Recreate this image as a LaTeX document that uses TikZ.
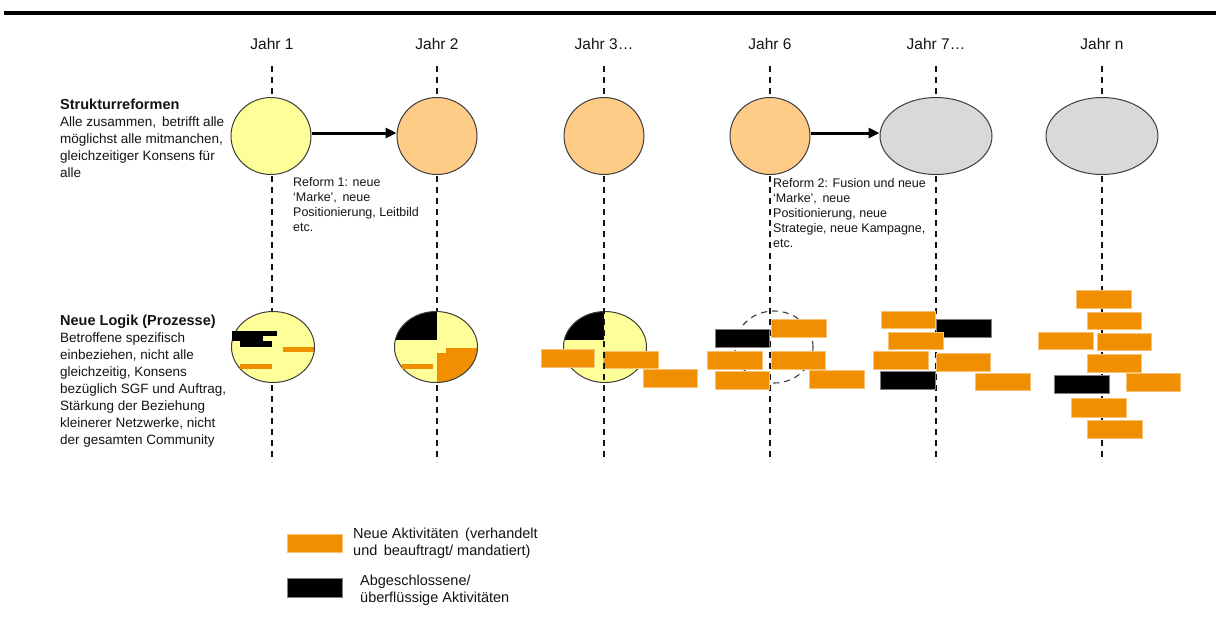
\documentclass[tikz,border=0pt]{standalone}
\usepackage{fontspec}
\setmainfont{Liberation Sans}
\usetikzlibrary{shapes.geometric,arrows.meta}
\definecolor{ylw}{RGB}{255,255,153}
\definecolor{peach}{RGB}{255,204,136}
\definecolor{lgray}{RGB}{217,217,217}
\definecolor{org}{RGB}{240,144,0}
\definecolor{edge}{RGB}{60,60,60}
\definecolor{txt}{RGB}{20,20,20}
\begin{document}
\begin{tikzpicture}[x=1pt,y=-1pt,
  yline/.style={dashed, dash pattern=on 6pt off 5pt, line width=1.1pt, draw=txt},
  bub/.style={ellipse, draw=edge, line width=1pt, inner sep=0pt, minimum width=80pt, minimum height=77pt},
  wbub/.style={bub, minimum width=112pt},
  lbub/.style={ellipse, draw=edge, line width=1pt, inner sep=0pt, minimum width=83pt, minimum height=71pt},
  obar/.style={fill=org, draw=org!55!white, line width=0.5pt},
  bbar/.style={fill=black, draw=gray, line width=0.5pt},
  yr/.style={font=\fontsize{15.5}{18}\selectfont, text=txt, inner sep=0pt, anchor=base},
  head/.style={font=\fontsize{14.5}{17}\selectfont\bfseries, text=txt, inner sep=0pt, anchor=base west},
  body/.style={font=\fontsize{13.5}{17}\selectfont, text=txt, inner sep=0pt, anchor=base west, align=left},
  note/.style={font=\fontsize{12.5}{15}\selectfont, text=txt, inner sep=0pt, anchor=base west, align=left},
  leg/.style={font=\fontsize{14.5}{17}\selectfont, text=txt, inner sep=0pt, anchor=base west, align=left},
  arr/.style={line width=3pt, -{Triangle[length=11pt,width=10pt]}}
]
\useasboundingbox (0,0) rectangle (1216,633);
\fill[white] (0,0) rectangle (1216,633);

% top rule
\draw[line width=4.5pt] (4,13) -- (1216,13);

% year labels
\node[yr] (y1) at (272,49) {Jahr 1};
\node[yr] (y2) at (437,49) {Jahr 2};
\node[yr] (y3) at (604,49) {Jahr 3\ldots};
\node[yr] (y6) at (770,49) {Jahr 6};
\node[yr] (y7) at (936,49) {Jahr 7\ldots};
\node[yr] (yn) at (1102,49) {Jahr n};

% dashed year lines
\foreach \x in {272,437,604,770,936,1102}
  \draw[yline] (\x,66) -- (\x,462);

% top row ellipses
\node[bub, fill=ylw] (t1) at (271,136) {};
\node[bub, fill=peach] (t2) at (437,136) {};
\node[bub, fill=peach] (t3) at (604,136) {};
\node[bub, fill=peach] (t4) at (770,136) {};
\node[wbub, fill=lgray] (t5) at (936,136) {};
\node[wbub, fill=lgray] (t6) at (1102,136) {};
\draw[arr] ([yshift=3pt]t1.east) -- ([yshift=3pt]t2.west);
\draw[arr] ([yshift=3pt]t4.east) -- ([yshift=3pt]t5.west);

% left texts (multi-line nodes: base = last line)
\node[head] (h1) at (60,109) {Strukturreformen};
\node[body] (d1) at (60,177) {Alle zusammen,\, betrifft alle\\m\"oglichst alle mitmanchen,\\gleichzeitiger Konsens f\"ur\\alle};
\node[head] (h2) at (60,325) {Neue Logik (Prozesse)};
\node[body] (d2) at (60,444) {Betroffene spezifisch\\einbeziehen, nicht alle\\gleichzeitig, Konsens\\bez\"uglich SGF und Auftrag,\\St\"arkung der Beziehung\\kleinerer Netzwerke, nicht\\der gesamten Community};

% reform notes
\node[note] (r1) at (293,231) {Reform 1: neue\\‘Marke’,\, neue\\Positionierung, Leitbild\\etc.};
\node[note] (r2) at (773,247) {Reform 2: Fusion und neue\\‘Marke’,\, neue\\Positionierung, neue\\Strategie, neue Kampagne,\\etc.};

% bottom ellipse 1
\begin{scope}
  \clip (273,347) ellipse [x radius=41.5, y radius=35.5];
  \fill[ylw] (220,300) rectangle (330,400);
  \fill[org] (283,347) rectangle (320,352);
\end{scope}
\node[lbub] (b1) at (273,347) {};
\fill[black] (232,331) rectangle (277,336);
\fill[black] (232,336) rectangle (263,341);
\fill[black] (240,341) rectangle (272,347);
\fill[org] (240,364) rectangle (272,369);

% bottom ellipse 2
\begin{scope}
  \clip (436,347) ellipse [x radius=41.5, y radius=35.5];
  \fill[ylw] (385,300) rectangle (490,400);
  \fill[black] (385,300) rectangle (437,340);
  \fill[org] (437,353) -- (446,353) -- (446,348) -- (490,348) -- (490,400) -- (437,400) -- cycle;
\end{scope}
\node[lbub] (b2) at (436,347) {};
\fill[org] (402,364) rectangle (433,369);

% bottom ellipse 3
\begin{scope}
  \clip (605,347) ellipse [x radius=41.5, y radius=35.5];
  \fill[ylw] (555,300) rectangle (660,400);
  \fill[black] (555,300) rectangle (604,340);
\end{scope}
\node[lbub] (b3) at (605,347) {};
\fill[obar] (541,349) rectangle (594,367);
\fill[obar] (603,351) rectangle (658,368);
\fill[obar] (643,369) rectangle (697,387);
\draw[yline] (604,308) -- (604,386);

% Jahr 6
\node[ellipse, draw=edge, dashed, dash pattern=on 6pt off 5pt, line width=1.1pt, inner sep=0pt, minimum width=78pt, minimum height=72pt] (c6) at (774,347) {};
\filldraw[bbar] (715,329) rectangle (769,347);
\filldraw[obar] (771,319) rectangle (826,337);
\filldraw[obar] (707,351) rectangle (762,369);
\filldraw[obar] (771,351) rectangle (825,369);
\filldraw[obar] (715,371) rectangle (769,389);
\filldraw[obar] (809,370) rectangle (864,388);

% Jahr 7
\filldraw[obar] (881,311) rectangle (935,328);
\filldraw[bbar] (936,319) rectangle (991,337);
\filldraw[obar] (888,332) rectangle (943,349);
\filldraw[obar] (873,351) rectangle (928,369);
\filldraw[obar] (936,353) rectangle (990,371);
\filldraw[bbar] (880,371) rectangle (935,389);
\filldraw[obar] (975,373) rectangle (1030,390);

% Jahr n
\filldraw[obar] (1076,290) rectangle (1131,308);
\filldraw[obar] (1087,312) rectangle (1141,329);
\filldraw[obar] (1038,332) rectangle (1093,349);
\filldraw[obar] (1097,333) rectangle (1151,350);
\filldraw[obar] (1087,354) rectangle (1141,372);
\filldraw[bbar] (1054,375) rectangle (1109,393);
\filldraw[obar] (1126,373) rectangle (1180,391);
\filldraw[obar] (1071,398) rectangle (1126,417);
\filldraw[obar] (1087,420) rectangle (1142,438);

% legend
\filldraw[obar] (287,534) rectangle (342,552);
\filldraw[bbar] (287,578) rectangle (342,597);
\node[leg] (l1) at (353,555) {Neue Aktivit\"aten\, (verhandelt\\und\, beauftragt/ mandatiert)};
\node[leg] (l2) at (360,602) {Abgeschlossene/\\\"uberfl\"ussige Aktivit\"aten};
\end{tikzpicture}
\end{document}
